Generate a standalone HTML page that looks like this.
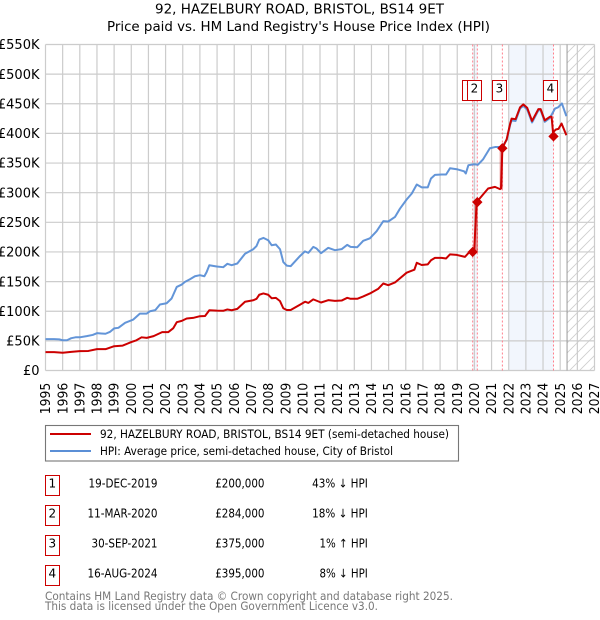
<!DOCTYPE html>
<html lang="en">
<head>
<meta charset="utf-8">
<title>92, Hazelbury Road price chart</title>
<style>
html,body{margin:0;padding:0;background:#fff;}
body{width:600px;height:620px;overflow:hidden;}
svg{display:block;font-family:"DejaVu Sans","Liberation Sans",sans-serif;}
</style>
</head>
<body>
<svg id="chart" width="600" height="620" viewBox="0 0 600 620" xmlns="http://www.w3.org/2000/svg">
<defs>
<pattern id="hatch" width="10" height="10" patternUnits="userSpaceOnUse">
<path d="M-1 11L11 -1M-1 1L1 -1M9 11L11 9" stroke="#cfcfcf" stroke-width="0.9" fill="none"/>
</pattern>
</defs>
<text x="299.5" y="13.5" font-size="13" text-anchor="middle" fill="#000" textLength="289" lengthAdjust="spacingAndGlyphs">92, HAZELBURY ROAD, BRISTOL, BS14 9ET</text>
<text x="298.5" y="31" font-size="13" text-anchor="middle" fill="#000" textLength="383" lengthAdjust="spacingAndGlyphs">Price paid vs. HM Land Registry's House Price Index (HPI)</text>
<g id="plot"></g>

<g>
<rect x="45.5" y="425.5" width="413" height="35.5" fill="#fff" stroke="#777" stroke-width="1.1"/>
<line x1="50" y1="434" x2="91" y2="434" stroke="#cc0000" stroke-width="2"/>
<text x="100" y="438" font-size="11.5" textLength="349" lengthAdjust="spacingAndGlyphs">92, HAZELBURY ROAD, BRISTOL, BS14 9ET (semi-detached house)</text>
<line x1="50" y1="451" x2="91" y2="451" stroke="#5b8fd6" stroke-width="2"/>
<text x="100" y="455" font-size="11.5" textLength="293" lengthAdjust="spacingAndGlyphs">HPI: Average price, semi-detached house, City of Bristol</text>
</g>

<g font-size="12">
<g>
<rect x="45.5" y="475.5" width="14" height="20" fill="#fff" stroke="#cc0000" stroke-width="1"/>
<text x="52.3" y="487.5" text-anchor="middle">1</text>
<text x="157.5" y="487.5" text-anchor="end" textLength="69" lengthAdjust="spacingAndGlyphs">19-DEC-2019</text>
<text x="264.5" y="487.5" text-anchor="end" textLength="49.3" lengthAdjust="spacingAndGlyphs">£200,000</text>
<text x="367.8" y="487.5" text-anchor="end" textLength="55.7" lengthAdjust="spacingAndGlyphs">43% ↓ HPI</text>
</g>
<g>
<rect x="45.5" y="505.5" width="14" height="20" fill="#fff" stroke="#cc0000" stroke-width="1"/>
<text x="52.3" y="517.5" text-anchor="middle">2</text>
<text x="157.5" y="517.5" text-anchor="end" textLength="70" lengthAdjust="spacingAndGlyphs">11-MAR-2020</text>
<text x="264.5" y="517.5" text-anchor="end" textLength="49.3" lengthAdjust="spacingAndGlyphs">£284,000</text>
<text x="367.8" y="517.5" text-anchor="end" textLength="55.7" lengthAdjust="spacingAndGlyphs">18% ↓ HPI</text>
</g>
<g>
<rect x="45.5" y="535.5" width="14" height="20" fill="#fff" stroke="#cc0000" stroke-width="1"/>
<text x="52.3" y="547.5" text-anchor="middle">3</text>
<text x="157.5" y="547.5" text-anchor="end" textLength="66" lengthAdjust="spacingAndGlyphs">30-SEP-2021</text>
<text x="264.5" y="547.5" text-anchor="end" textLength="49.3" lengthAdjust="spacingAndGlyphs">£375,000</text>
<text x="367.8" y="547.5" text-anchor="end" textLength="48.3" lengthAdjust="spacingAndGlyphs">1% ↑ HPI</text>
</g>
<g>
<rect x="45.5" y="565.5" width="14" height="20" fill="#fff" stroke="#cc0000" stroke-width="1"/>
<text x="52.3" y="577.5" text-anchor="middle">4</text>
<text x="157.5" y="577.5" text-anchor="end" textLength="70" lengthAdjust="spacingAndGlyphs">16-AUG-2024</text>
<text x="264.5" y="577.5" text-anchor="end" textLength="49.3" lengthAdjust="spacingAndGlyphs">£395,000</text>
<text x="367.8" y="577.5" text-anchor="end" textLength="48.3" lengthAdjust="spacingAndGlyphs">8% ↓ HPI</text>
</g>
</g>

<text x="45" y="600" font-size="11.5" fill="#777" textLength="408" lengthAdjust="spacingAndGlyphs">Contains HM Land Registry data © Crown copyright and database right 2025.</text>
<text x="45" y="610" font-size="11.5" fill="#777" textLength="333" lengthAdjust="spacingAndGlyphs">This data is licensed under the Open Government Licence v3.0.</text>
</svg>

<script>
var yearTicks = [1995,1996,1997,1998,1999,2000,2001,2002,2003,2004,2005,2006,2007,2008,2009,2010,2011,2012,2013,2014,2015,2016,2017,2018,2019,2020,2021,2022,2023,2024,2025,2026,2027];
var priceTicks = [0,50,100,150,200,250,300,350,400,450,500,550];
var priceTickLabels = ["£0","£50K","£100K","£150K","£200K","£250K","£300K","£350K","£400K","£450K","£500K","£550K"];

var hpiDates = [1995,1995.5,1995.8,1996,1996.25,1996.5,1996.75,1997,1997.4,1997.75,1998,1998.25,1998.5,1998.75,1999,1999.25,1999.64,2000.12,2000.5,2000.9,2001.09,2001.4,2001.67,2002.06,2002.35,2002.65,2002.94,2003.13,2003.42,2003.71,2004,2004.26,2004.39,2004.55,2004.98,2005.36,2005.6,2005.85,2006.18,2006.63,2007.11,2007.3,2007.46,2007.7,2007.98,2008.18,2008.43,2008.67,2008.86,2009.06,2009.29,2009.83,2010.12,2010.32,2010.61,2010.8,2011.06,2011.48,2011.87,2012.26,2012.59,2012.78,2013.17,2013.52,2013.91,2014.3,2014.69,2014.98,2015.37,2015.66,2016.05,2016.35,2016.64,2016.93,2017.28,2017.47,2017.7,2018.09,2018.35,2018.58,2018.97,2019.4,2019.5,2019.65,2020,2020.2,2020.5,2020.9,2021.2,2021.6,2021.88,2022.08,2022.17,2022.4,2022.66,2022.85,2023.08,2023.36,2023.73,2023.86,2024.1,2024.4,2024.7,2024.88,2025.1,2025.36];
var hpiValues = [53,53,52.5,51,51,54.5,56,56,58,60,63,62.5,62,65,71,72,80.4,86,96,96,100,101.8,111.4,113.5,121.5,141,145,149.5,154,159,160.8,159,166,177.6,175.4,174.3,180,177.6,180.5,197,204.6,210,221,223.7,219.8,211.4,212.5,204.6,183,177,176,193,201,198.4,208.6,205.8,198,206.9,203,204.7,212,208.6,208,218.7,223,235,252,251.4,259,273,288.5,298.6,313.8,309,309,324,330,330.7,330.7,341.3,339.6,336,332.4,346.4,348,347,356,375,377,377,388.6,414,422,421,442,446.5,440,418.4,439,439,419.6,426,442,444,450.5,429];

var priceDates = [1995,1995.5,1996,1996.5,1997,1997.5,1998,1998.5,1999,1999.5,2000,2000.3,2000.6,2000.9,2001.3,2001.8,2002.15,2002.45,2002.65,2002.94,2003.23,2003.6,2004,2004.3,2004.55,2004.98,2005.36,2005.6,2005.85,2006.18,2006.63,2007.11,2007.3,2007.46,2007.7,2007.98,2008.18,2008.43,2008.67,2008.86,2009.06,2009.29,2009.83,2010.13,2010.32,2010.61,2011.06,2011.48,2011.87,2012.26,2012.59,2012.78,2013.17,2013.52,2013.91,2014.4,2014.69,2014.98,2015.37,2016.05,2016.5,2016.64,2016.93,2017.28,2017.47,2017.7,2018.09,2018.35,2018.58,2018.97,2019.45,2019.7,2019.98,2020.13,2020.3,2020.8,2021.2,2021.49,2021.55,2021.63,2021.88,2022.08,2022.17,2022.4,2022.66,2022.85,2023.08,2023.36,2023.73,2023.86,2024.1,2024.4,2024.5,2024.58,2024.75,2024.9,2025.08,2025.36];
var priceValues = [31,31,30,31.5,32.6,33,36,36,41,42,48,51,56,55,58,64.7,64.7,71.4,81.5,83.7,87.7,88.7,91.6,92,101.7,101,100.7,103,101.7,104,116,118.5,121,127.8,130,127.8,122,122.5,117,105,102,102,111,116,114,120,114.7,118.7,117.5,118,122.6,121,121,125,130,138,146.8,144,148.5,165,170,181.7,178,179,186,190,190,189,196,195,191.7,199.7,198,284,290,307,309.8,306,307,375,390,416,425,424,444,449,443,421,441,441,422,428,428,402,406.6,407.6,416.7,397];

var saleDates = [2019.90,2020.17,2021.63,2024.61];
var salePrices = [200,284,375,395];
var saleBadgeLabels = ["1","2","3","4"];
var shadedBands = [[2019.90,2020.17],[2022.0,2024.61]];
var forecastStart = 2025.4;

var X0 = 45.5, X1 = 594.5, Y0 = 370.5, Y1 = 44.5;
function xScale(year){ return X0 + (year - 1995) * (X1 - X0) / (2027 - 1995); }
function yScale(k){ return Y0 - k * (Y0 - Y1) / 550; }

var NS = 'http://www.w3.org/2000/svg';
var plot = document.getElementById('plot');
function make(tag, attrs, parent){
  var el = document.createElementNS(NS, tag);
  for (var k in attrs) el.setAttribute(k, attrs[k]);
  (parent || plot).appendChild(el);
  return el;
}
function pathFrom(dates, values){
  var d = '';
  for (var i = 0; i < dates.length; i++) d += (i ? 'L' : 'M') + xScale(dates[i]).toFixed(2) + ' ' + yScale(values[i]).toFixed(2);
  return d;
}

shadedBands.forEach(function(b){
  var r = make('rect', {x:xScale(b[0]), y:Y1, width:xScale(b[1])-xScale(b[0]), height:Y0-Y1, fill:'#f2f6fd'});
  
  
});

var fc = make('rect', {x:xScale(forecastStart), y:Y1, width:X1-xScale(forecastStart), height:Y0-Y1, fill:'url(#hatch)'});



yearTicks.forEach(function(yr){
  var px = xScale(yr);
  var g = make('line', {x1:px, y1:Y1, x2:px, y2:Y0, stroke:'#cccccc', 'stroke-width':1.2});
  
  
  var t = make('text', {transform:'translate(' + (px + 4.6) + ',382.7) rotate(-90)', 'font-size':13, 'text-anchor':'end', fill:'#000', textLength:31.5, lengthAdjust:'spacingAndGlyphs'});
  
  
  t.textContent = String(yr);
});
priceTicks.forEach(function(v, i){
  var py = yScale(v);
  var g = make('line', {x1:X0, y1:py, x2:X1, y2:py, stroke:'#cccccc', 'stroke-width':1.2});
  
  
  var t = make('text', {x:39.5, y:py + 4.7, 'font-size':13, 'text-anchor':'end', fill:'#000'});
  
  
  t.textContent = priceTickLabels[i];
});

var fl = make('line', {x1:xScale(forecastStart), y1:Y1, x2:xScale(forecastStart), y2:Y0, stroke:'#999999', 'stroke-width':1});



saleDates.forEach(function(d){
  var l = make('line', {x1:xScale(d), y1:Y1, x2:xScale(d), y2:Y0, stroke:'#ff7f8c', 'stroke-width':1, 'stroke-dasharray':'2 2'});
  
  
});

var hpiLine = make('path', {d:pathFrom(hpiDates, hpiValues), fill:'none', stroke:'#5b8fd6', 'stroke-width':2, 'stroke-linejoin':'round', opacity:0.95});



var priceLine = make('path', {d:pathFrom(priceDates, priceValues), fill:'none', stroke:'#cc0000', 'stroke-width':2, 'stroke-linejoin':'round'});



saleDates.forEach(function(d, i){
  if (i === 0 || i === 3) return;
  var j = make('line', {x1:xScale(d)-1, y1:yScale(salePrices[i]), x2:xScale(d)-1, y2:yScale(i === 1 ? salePrices[0] : 307), stroke:'#cc0000', 'stroke-width':3.4, opacity:0.4});
  
  
});

saleDates.forEach(function(d, i){
  var px = xScale(d), py = yScale(salePrices[i]), r = 4.6;
  var m = make('polygon', {points:[px,py-r,px+r,py,px,py+r,px-r,py].join(' '), fill:'#cc0000', stroke:'#cc0000', 'stroke-width':0.8});
  
  
});

saleDates.forEach(function(d, i){
  var left = Math.floor(xScale(d) - 10) + 0.5;
  var b = make('rect', {x:left, y:80.5, width:14, height:20, fill:'#fff', stroke:'#cc0000', 'stroke-width':1});
  
  
  var t = make('text', {x:left + 7, y:92.5, 'font-size':12, 'text-anchor':'middle', fill:'#000'});
  
  
  t.textContent = saleBadgeLabels[i];
});
</script>
</body>
</html>
